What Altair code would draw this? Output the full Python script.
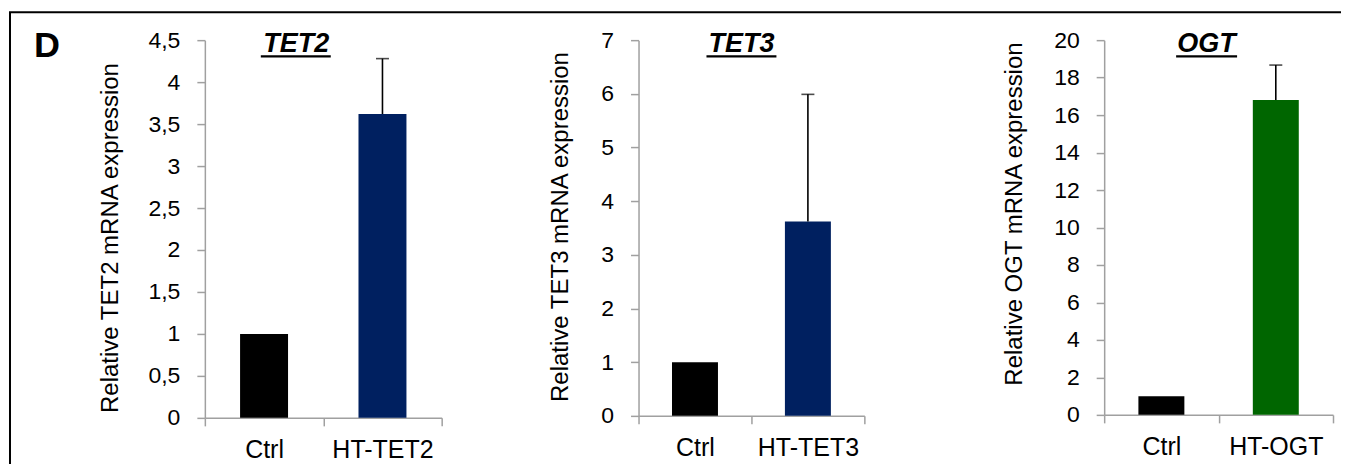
import altair as alt
import pandas as pd

FONT = "Liberation Sans"

# ---------------- data ----------------
genes = ["TET2", "TET3", "OGT"]
categories = [["Ctrl", "HT-TET2"], ["Ctrl", "HT-TET3"], ["Ctrl", "HT-OGT"]]
values = [[1.0, 3.62], [1.0, 3.62], [1.0, 16.8]]
errors = [[0.0, 0.66], [0.0, 2.37], [0.0, 1.87]]
y_max = [4.5, 7, 20]
y_ticks = [
    [0, 0.5, 1, 1.5, 2, 2.5, 3, 3.5, 4, 4.5],
    [0, 1, 2, 3, 4, 5, 6, 7],
    [0, 2, 4, 6, 8, 10, 12, 14, 16, 18, 20],
]
y_titles = [
    "Relative TET2 mRNA expression",
    "Relative TET3 mRNA expression",
    "Relative OGT mRNA expression",
]
panel_label = ["D"]

# ---------------- styles ----------------
bar_colors = [["#000000", "#002060"], ["#000000", "#002060"], ["#000000", "#006600"]]
GRAY = "#A0A0A0"
widths = [237, 269, 229]
x_ranges = [None, 226, None]
heights = [378, 376, 375]
bar_widths = [48, 46, 46]
title_cx = [91.5, 103, 102.3]
underline = [(56, 126), (68, 138), (72, 133)]
ytitle_x = [-82, -66, -78]
ytitle_y = [197.5, 186.5, 173.5]


def panel(i):
    df = pd.DataFrame({"cat": categories[i], "val": values[i], "err": errors[i]})
    df["upper"] = df["val"] + df["err"]
    df_err = df[df["err"] > 0]

    sc_kwargs = dict(paddingInner=0, paddingOuter=0)
    if x_ranges[i] is not None:
        sc_kwargs["range"] = [0, x_ranges[i]]
    xenc = alt.X(
        "cat:N",
        sort=categories[i],
        scale=alt.Scale(**sc_kwargs),
        axis=alt.Axis(
            title=None, labelAngle=0, tickBand="extent", labelFontSize=25,
            labelColor="black", labelFont=FONT, labelPadding=12, tickSize=8,
            domainColor=GRAY, tickColor=GRAY, domainWidth=1.5, tickWidth=1.5,
        ),
    )
    yscale = alt.Scale(domain=[0, y_max[i]], nice=False)
    yenc = alt.Y(
        "val:Q",
        scale=yscale,
        axis=alt.Axis(
            values=y_ticks[i], tickCount=40, format="~g",
            labelExpr="replace(datum.label, '.', ',')",
            labelOverlap=False,
            grid=False, title=y_titles[i], titleFont=FONT, titleFontSize=24,
            titleFontWeight="normal", titleColor="black",
            titleX=ytitle_x[i], titleY=ytitle_y[i], titleAngle=270,
            titleBaseline="bottom", titleAlign="center",
            labelFont=FONT, labelFontSize=23, labelColor="black",
            labelPadding=17, tickSize=8, domainColor=GRAY, tickColor=GRAY,
            domainWidth=1.5, tickWidth=1.5,
        ),
    )
    bars = alt.Chart(df).mark_bar(width=bar_widths[i]).encode(
        x=xenc, y=yenc,
        color=alt.Color("cat:N", scale=alt.Scale(domain=categories[i], range=bar_colors[i]), legend=None),
    )
    err_line = alt.Chart(df_err).mark_rule(color="black", strokeWidth=1.6).encode(
        x=alt.X("cat:N", sort=categories[i]), y=alt.Y("val:Q", scale=yscale), y2="upper:Q"
    )
    err_cap = alt.Chart(df_err).mark_tick(color="black", thickness=1.6, size=13, orient="horizontal").encode(
        x=alt.X("cat:N", sort=categories[i]), y=alt.Y("upper:Q", scale=yscale)
    )
    tdf = pd.DataFrame({"t": [genes[i]]})
    title = alt.Chart(tdf).mark_text(
        font=FONT, fontSize=27, fontWeight="bold", fontStyle="italic",
        align="center", baseline="alphabetic", color="black",
    ).encode(text="t:N", x=alt.value(title_cx[i]), y=alt.value(12))
    uline = alt.Chart(tdf).mark_rule(color="black", strokeWidth=2.3).encode(
        x=alt.value(underline[i][0]), x2=alt.value(underline[i][1]), y=alt.value(16.3)
    )
    layers = [bars, err_line, err_cap, title, uline]
    if i == 0:
        ddf = pd.DataFrame({"t": panel_label})
        dtext = alt.Chart(ddf).mark_text(
            font=FONT, fontSize=36, fontWeight="bold", align="left",
            baseline="alphabetic", color="black",
        ).encode(text="t:N", x=alt.value(-171), y=alt.value(17))
        left_border = alt.Chart(ddf).mark_rule(color="black", strokeWidth=2).encode(
            x=alt.value(-195), y=alt.value(-28), y2=alt.value(430)
        )
        top_border = alt.Chart(ddf).mark_rule(color="black", strokeWidth=2).encode(
            x=alt.value(-196), x2=alt.value(1137), y=alt.value(-28)
        )
        layers += [dtext, left_border, top_border]
    return alt.layer(*layers).properties(width=widths[i], height=heights[i])


chart = alt.hconcat(
    panel(0), panel(1), panel(2), spacing=197, bounds="flush"
).resolve_scale(color="independent").properties(
    padding={"left": 0, "top": 3, "right": 0, "bottom": 0}
).configure_view(strokeWidth=0)

chart.save("out.html", embed_options={"renderer": "svg", "actions": False})
